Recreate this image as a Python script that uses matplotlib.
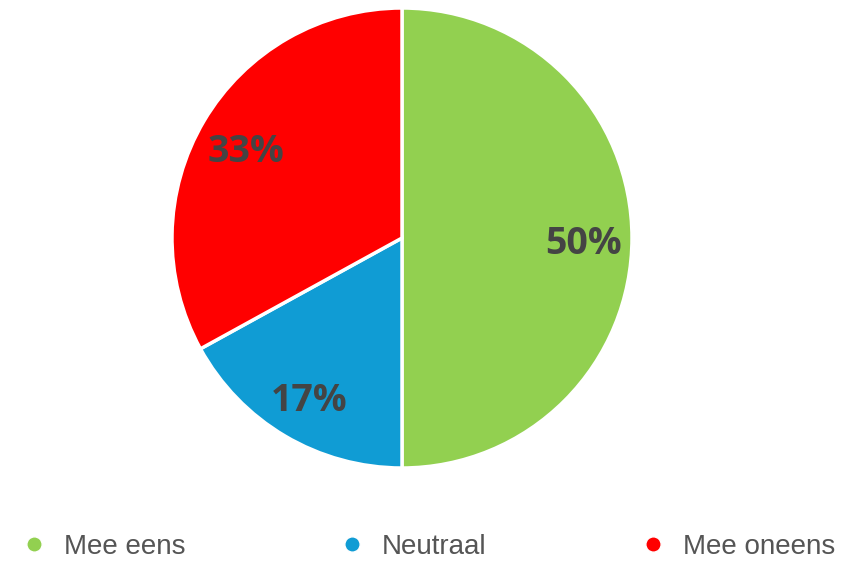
import matplotlib.pyplot as plt
from matplotlib.lines import Line2D

labels = ['Mee eens', 'Neutraal', 'Mee oneens']
values = [50, 17, 33]
colors = ['#92D050', '#109CD4', '#FF0000']

fig = plt.figure(figsize=(8.48, 5.61), dpi=100)
# pie centre ~ (402, 238) px, radius ~230 px
ax = fig.add_axes([(402 - 230) / 848, (561 - 238 - 230) / 561, 460 / 848, 460 / 561])

wedges, texts, autotexts = ax.pie(
    values, colors=colors, startangle=90, counterclock=False,
    autopct='%d%%', pctdistance=0.79, radius=1,
    wedgeprops=dict(edgecolor='white', linewidth=2.5),
    textprops=dict(color='#444444', fontsize=27, fontweight='bold', family=['Open Sans', 'DejaVu Sans']),
)
# nudge percentage labels down a little
for t in autotexts:
    x, y = t.get_position()
    t.set_position((x, y - 0.027))
ax.set_xlim(-1, 1)
ax.set_ylim(-1, 1)
ax.set_aspect('equal')
ax.axis('off')

handles = [Line2D([], [], marker='o', linestyle='', markersize=11,
                  markerfacecolor=c, markeredgecolor='white') for c in colors]
leg = fig.legend(handles, labels, ncol=3, loc='center left',
                 bbox_to_anchor=(0.0237, 0.025), frameon=False,
                 borderpad=0, borderaxespad=0,
                 handlelength=1.0, handletextpad=0.58, columnspacing=5.5,
                 prop=dict(family=['Liberation Sans', 'DejaVu Sans'], size=20))
for t in leg.get_texts():
    t.set_color('#555555')

fig.savefig('out.png', dpi=100)
